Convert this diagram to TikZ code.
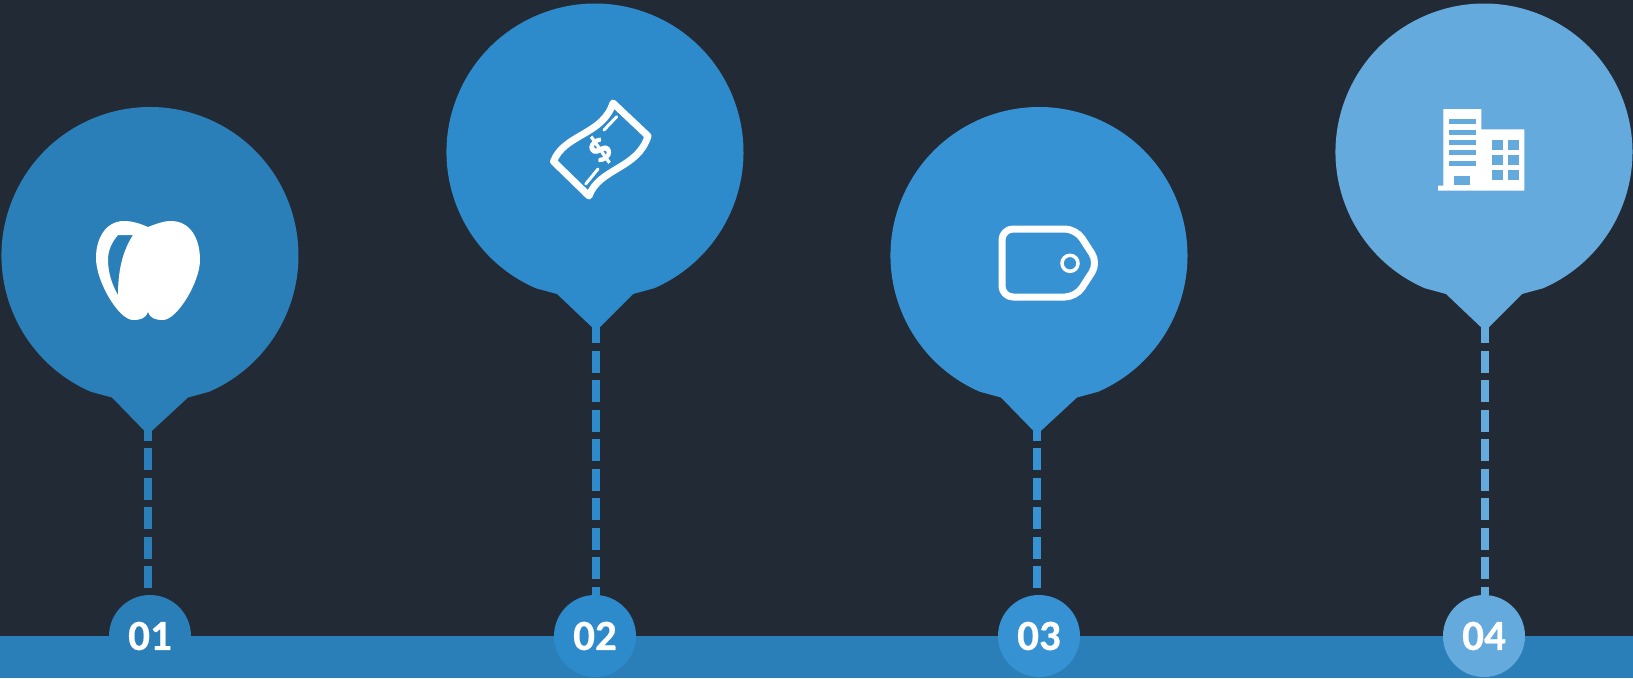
\documentclass[tikz,border=0pt]{standalone}
\usepackage{fontspec}
\setmainfont{Carlito}
\newfontfamily\digitfont[FakeBold=0.6]{Carlito Bold}
\usetikzlibrary{positioning}
\definecolor{slatebg}{HTML}{222A35}
\definecolor{stageA}{HTML}{2A7FB8}
\definecolor{stageB}{HTML}{2E8BCB}
\definecolor{stageC}{HTML}{3792D3}
\definecolor{stageD}{HTML}{64AADD}
\tikzset{
  numdisc/.style={circle,minimum size=82pt,inner sep=0pt,text=white,font=\fontsize{43}{43}\digitfont},
  dashline/.style={line width=8pt,dash pattern=on 22pt off 7.5pt},
  iconline/.style={draw=white,line width=7pt,line join=round,line cap=round}
}

\begin{document}
\begin{tikzpicture}[x=1pt,y=-1pt]
\useasboundingbox (0,0) rectangle (1633,678);
\fill[slatebg] (0,0) rectangle (1633,678);

% Bottom bar
\fill[stageA] (0,636) rectangle (1633,678);

% Pins, numbered discs and dashed stems
\foreach \idx/\cx/\cy/\tipx/\numx/\col/\phase/\num in {
  1/150/255.5/148/150/stageA/12/01,
  2/595/152/596/595/stageB/6/02,
  3/1039/255.5/1037/1039/stageC/12/03,
  4/1484/152/1485/1484/stageD/6/04}{
  \node[numdisc,fill=\col] (num\idx) at (\numx,636) {\num};
  \coordinate (tip\idx) at (\tipx,\cy+175);
  \draw[dashline,draw=\col,dash phase=\phase pt] (tip\idx) -- (tip\idx |- num\idx.north);
  \fill[\col] (\cx-59,\cy+136.3) arc[start angle=246.6,end angle=-66.6,radius=148.5pt]
    -- (\cx+38,\cy+142) -- (\tipx,\cy+179) -- (\cx-38,\cy+142) -- cycle;
}

% Apple
\fill[white,even odd rule]
  (148,227) .. controls (156,224) and (163,221) .. (171,221)
  .. controls (190,221) and (200,238) .. (200,260)
  .. controls (200,282) and (177,320) .. (163,320)
  .. controls (155,320) and (150,318) .. (148,312)
  .. controls (146,318) and (141,320) .. (133,320)
  .. controls (119,320) and (96,282) .. (96,258)
  .. controls (96,238) and (106,221) .. (124,221)
  .. controls (133,221) and (141,224) .. (148,227) -- cycle
  (118,235) -- (133,235) .. controls (122,252) and (118,272) .. (118,295)
  .. controls (112,285) and (108,272) .. (108,260)
  .. controls (108,250) and (112,242) .. (118,235) -- cycle;

% Banknote
\draw[iconline]
  (553.5,161.5) .. controls (564,134) and (603,135) .. (613,103)
  -- (648,136) .. controls (638,169) and (599,168) .. (589,196) -- cycle;
\draw[iconline,line width=3pt] (616.7,116.7) -- (604,130);
\draw[iconline,line width=3pt] (598,169) -- (585.7,184);
\node[text=white,font=\fontsize{42}{42}\digitfont,rotate=40,inner sep=0pt] (dollar) at (600,150) {\$};

% Price tag
\draw[iconline,rounded corners=11pt]
  (1040,229) -- (1076,229) -- (1098,263) -- (1076,297) -- (1002,297) -- (1002,229) -- cycle;
\draw[white,line width=3.5pt] (1070,263.3) circle (8);

% Office building
\fill[white] (1443.3,109) -- (1481.3,109) -- (1481.3,129.3) -- (1524.3,129.3) -- (1524.3,190.7)
  -- (1438,190.7) -- (1438,185.7) -- (1443.3,185.7) -- cycle;
\foreach \wy in {119.3,129.6,139.9,150.2,160.5}
  \fill[stageD] (1449,\wy) rectangle (1475.7,\wy+5);
\fill[stageD] (1454.3,175.7) rectangle (1470.3,185);
\foreach \wx in {1492,1508.3}
  \foreach \wy in {139.7,155,170}
    \fill[stageD] (\wx,\wy) rectangle (\wx+10.5,\wy+10.3);
\end{tikzpicture}
\end{document}
